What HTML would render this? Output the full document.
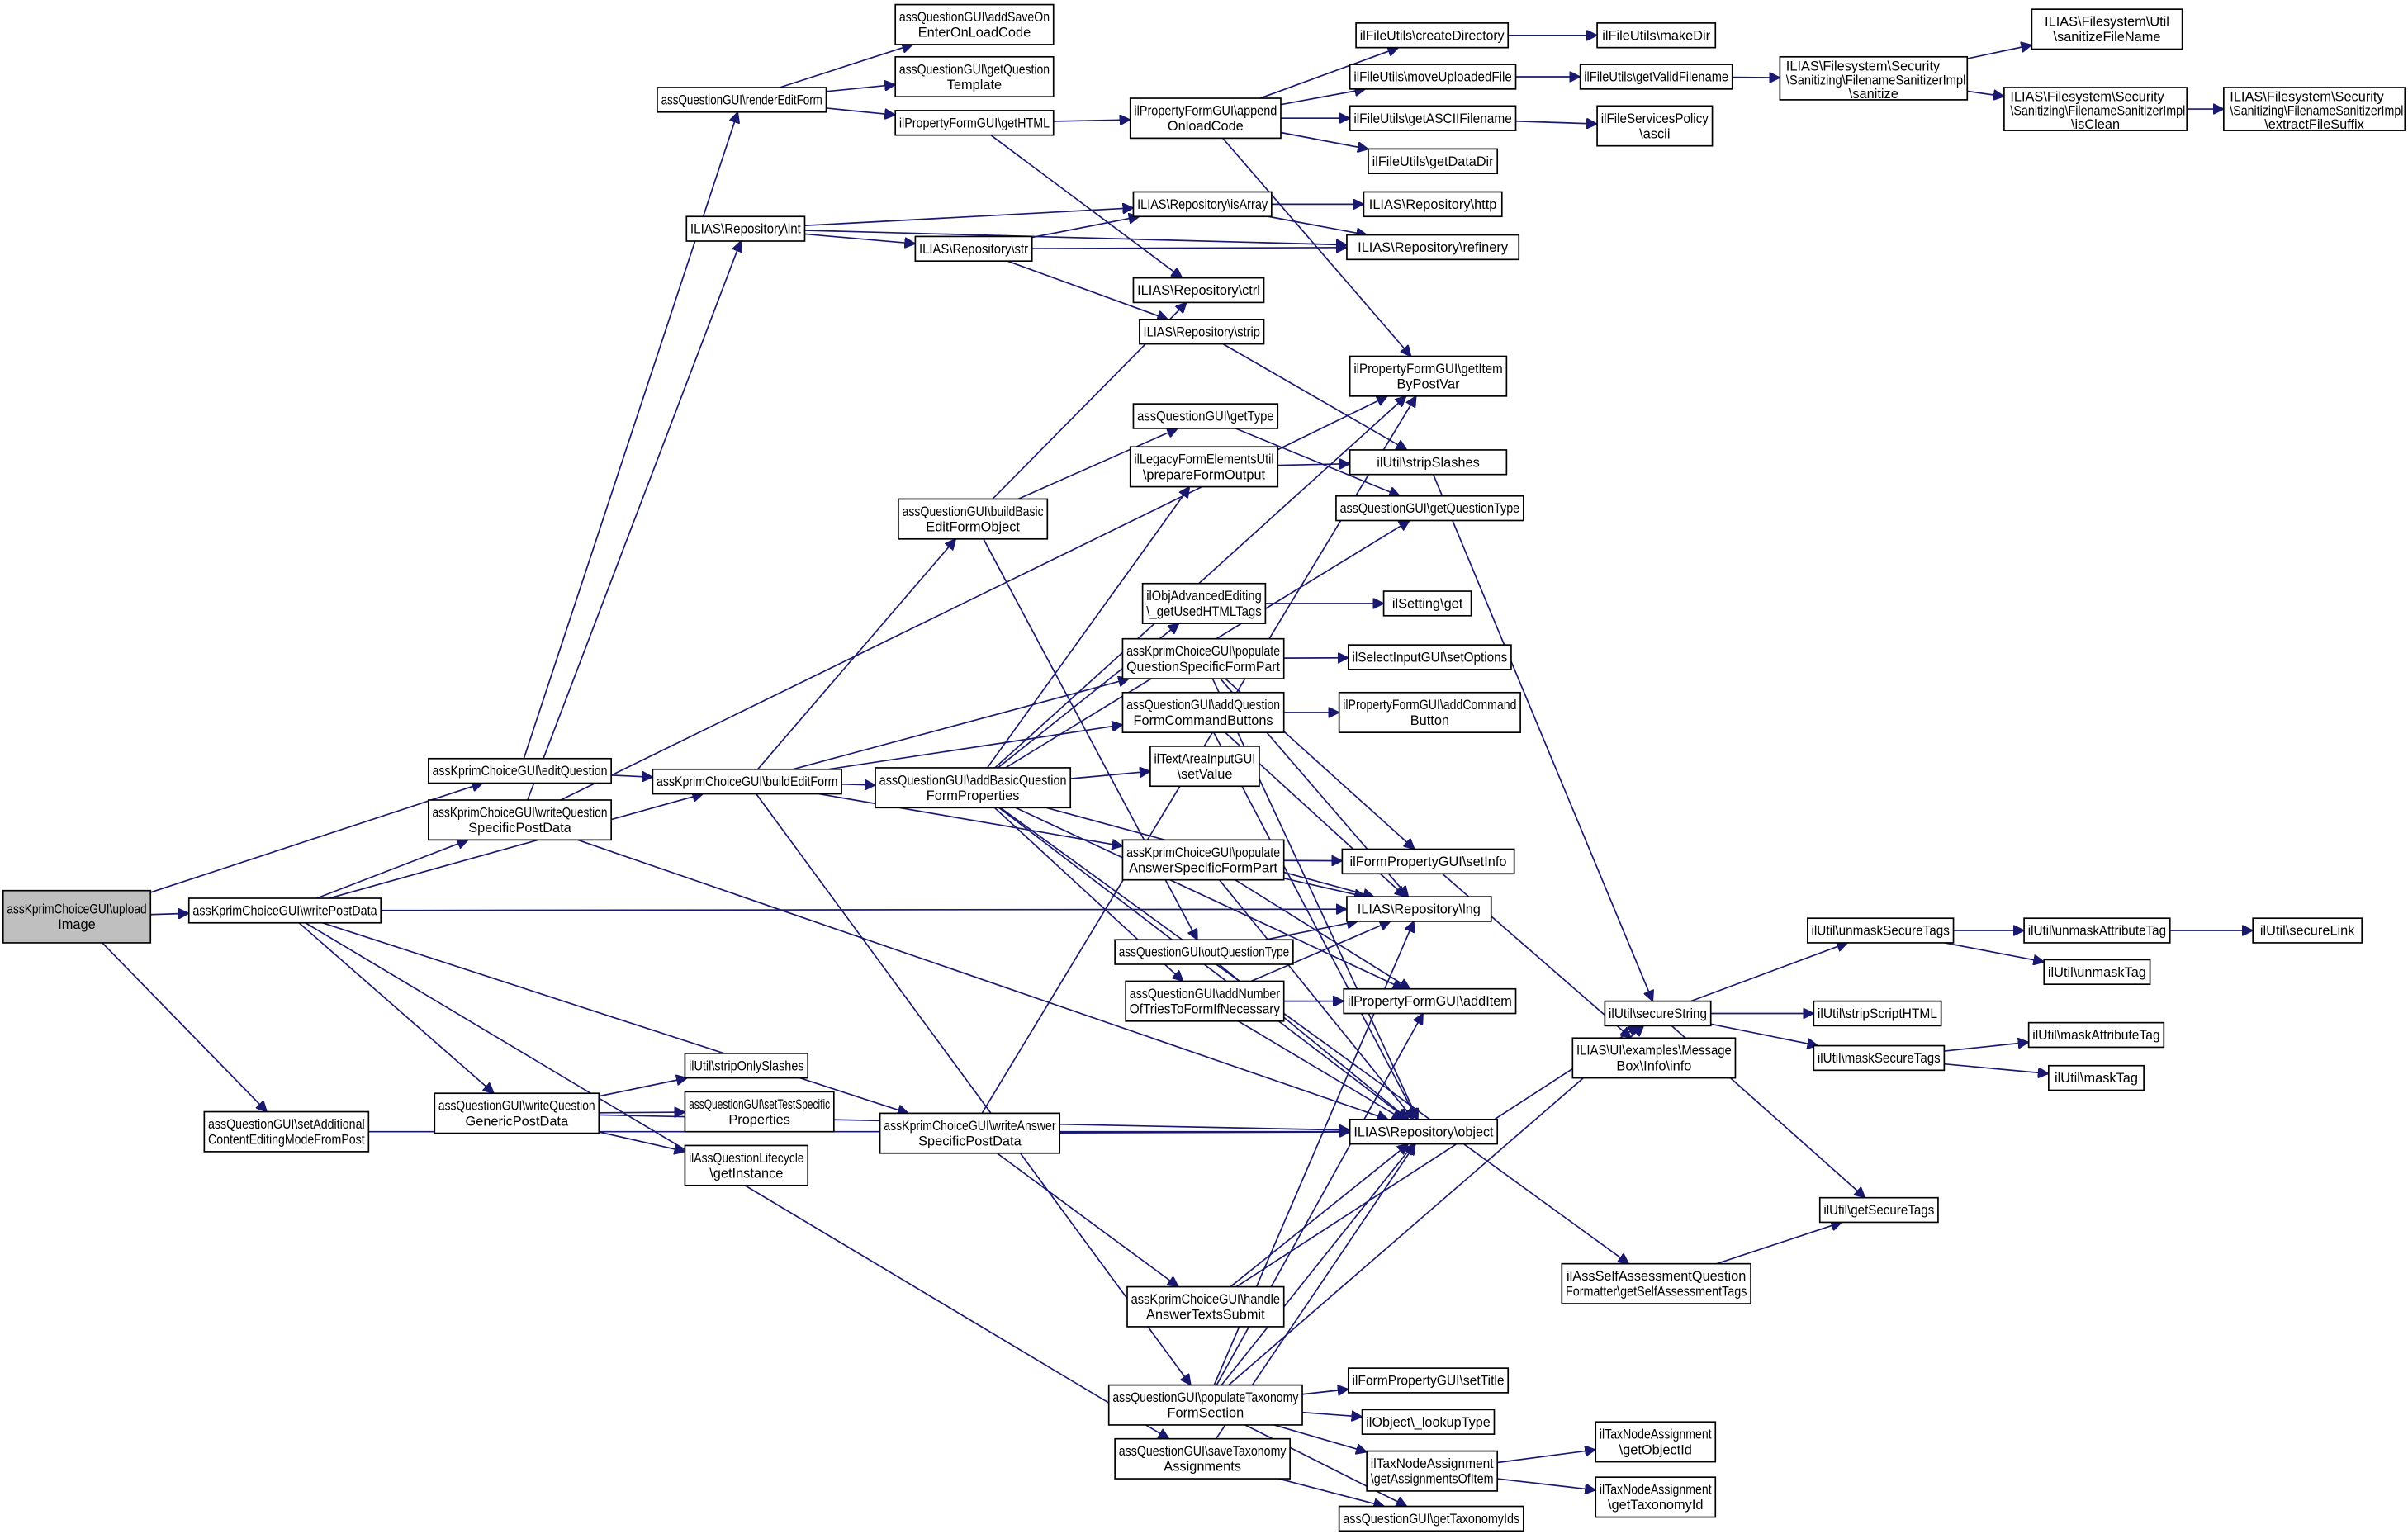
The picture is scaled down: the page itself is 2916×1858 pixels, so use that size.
<!DOCTYPE html>
<html><head><meta charset="utf-8">
<style>
html,body{margin:0;padding:0;background:#fff;}
svg{display:block;}
text{font-family:"Liberation Sans",sans-serif;font-size:8.8px;fill:#000;text-anchor:middle;}
text.l{text-anchor:start;}
rect{fill:#fff;stroke:#000;stroke-width:0.9;}
rect.g{fill:#bfbfbf;}
path.e{fill:none;stroke:#191970;stroke-width:0.9;}
</style></head><body>
<svg id="s" width="2916" height="1858" viewBox="0 0 1568 999" preserveAspectRatio="none" xmlns="http://www.w3.org/2000/svg">
<defs><marker id="a" viewBox="0 0 10 10" refX="10" refY="5" markerWidth="7" markerHeight="7" markerUnits="userSpaceOnUse" orient="auto"><path d="M0,0L10,5L0,10z" fill="#191970" stroke="#191970"/></marker></defs>
<g id="edges"></g>
<g id="nodes">
<rect id="n1" class="g" x="2" y="580" width="96" height="34"/><text x="50" y="595">assKprimChoiceGUI\upload</text><text x="50" y="605">Image</text>
<rect id="n2" x="123" y="585" width="125" height="16"/><text x="185.5" y="596">assKprimChoiceGUI\writePostData</text>
<rect id="n3" x="133" y="724" width="107" height="26"/><text x="186.5" y="735">assQuestionGUI\setAdditional</text><text x="186.5" y="745">ContentEditingModeFromPost</text>
<rect id="n4" x="279" y="494" width="119" height="16"/><text x="338.5" y="505">assKprimChoiceGUI\editQuestion</text>
<rect id="n5" x="279" y="521" width="119" height="26"/><text x="338.5" y="532">assKprimChoiceGUI\writeQuestion</text><text x="338.5" y="542">SpecificPostData</text>
<rect id="n6" x="283" y="712" width="107" height="26"/><text x="336.5" y="723">assQuestionGUI\writeQuestion</text><text x="336.5" y="733">GenericPostData</text>
<rect id="n7" x="428" y="57" width="110" height="16"/><text x="483" y="68">assQuestionGUI\renderEditForm</text>
<rect id="n8" x="447" y="141" width="77" height="16"/><text x="485.5" y="152">ILIAS\Repository\int</text>
<rect id="n9" x="425" y="501" width="123" height="16"/><text x="486.5" y="512">assKprimChoiceGUI\buildEditForm</text>
<rect id="n10" x="583" y="3" width="103" height="26"/><text x="634.5" y="14">assQuestionGUI\addSaveOn</text><text x="634.5" y="24">EnterOnLoadCode</text>
<rect id="n11" x="583" y="37" width="103" height="26"/><text x="634.5" y="48">assQuestionGUI\getQuestion</text><text x="634.5" y="58">Template</text>
<rect id="n12" x="583" y="72" width="103" height="16"/><text x="634.5" y="83">ilPropertyFormGUI\getHTML</text>
<rect id="n13" x="596" y="154" width="76" height="16"/><text x="634" y="165">ILIAS\Repository\str</text>
<rect id="n14" x="585" y="325" width="97" height="26"/><text x="633.5" y="336">assQuestionGUI\buildBasic</text><text x="633.5" y="346">EditFormObject</text>
<rect id="n15" x="570" y="500" width="127" height="26"/><text x="633.5" y="511">assQuestionGUI\addBasicQuestion</text><text x="633.5" y="521">FormProperties</text>
<rect id="n16" x="573" y="725" width="117" height="26"/><text x="631.5" y="736">assKprimChoiceGUI\writeAnswer</text><text x="631.5" y="746">SpecificPostData</text>
<rect id="n17" x="722" y="902" width="126" height="26"/><text x="785" y="913">assQuestionGUI\populateTaxonomy</text><text x="785" y="923">FormSection</text>
<rect id="n18" x="726" y="937" width="114" height="26"/><text x="783" y="948">assQuestionGUI\saveTaxonomy</text><text x="783" y="958">Assignments</text>
<rect id="n19" x="446" y="686" width="80" height="16"/><text x="486" y="697">ilUtil\stripOnlySlashes</text>
<rect id="n20" x="446" y="711" width="97" height="26"/><text x="494.5" y="722">assQuestionGUI\setTestSpecific</text><text x="494.5" y="732">Properties</text>
<rect id="n21" x="446" y="746" width="80" height="26"/><text x="486" y="757">ilAssQuestionLifecycle</text><text x="486" y="767">\getInstance</text>
<rect id="n22" x="736" y="64" width="98" height="26"/><text x="785" y="75">ilPropertyFormGUI\append</text><text x="785" y="85">OnloadCode</text>
<rect id="n23" x="738" y="125" width="90" height="16"/><text x="783" y="136">ILIAS\Repository\isArray</text>
<rect id="n24" x="738" y="181" width="85" height="16"/><text x="780.5" y="192">ILIAS\Repository\ctrl</text>
<rect id="n25" x="742" y="208" width="81" height="16"/><text x="782.5" y="219">ILIAS\Repository\strip</text>
<rect id="n26" x="738" y="263" width="94" height="16"/><text x="785" y="274">assQuestionGUI\getType</text>
<rect id="n27" x="736" y="291" width="96" height="26"/><text x="784" y="302">ilLegacyFormElementsUtil</text><text x="784" y="312">\prepareFormOutput</text>
<rect id="n28" x="744" y="380" width="80" height="26"/><text x="784" y="391">ilObjAdvancedEditing</text><text x="784" y="401">\_getUsedHTMLTags</text>
<rect id="n29" x="731" y="416" width="105" height="26"/><text x="783.5" y="427">assKprimChoiceGUI\populate</text><text x="783.5" y="437">QuestionSpecificFormPart</text>
<rect id="n30" x="731" y="451" width="105" height="26"/><text x="783.5" y="462">assQuestionGUI\addQuestion</text><text x="783.5" y="472">FormCommandButtons</text>
<rect id="n31" x="749" y="486" width="71" height="26"/><text x="784.5" y="497">ilTextAreaInputGUI</text><text x="784.5" y="507">\setValue</text>
<rect id="n32" x="731" y="547" width="105" height="26"/><text x="783.5" y="558">assKprimChoiceGUI\populate</text><text x="783.5" y="568">AnswerSpecificFormPart</text>
<rect id="n33" x="726" y="612" width="116" height="16"/><text x="784" y="623">assQuestionGUI\outQuestionType</text>
<rect id="n34" x="733" y="639" width="103" height="26"/><text x="784.5" y="650">assQuestionGUI\addNumber</text><text x="784.5" y="660">OfTriesToFormIfNecessary</text>
<rect id="n35" x="734" y="838" width="102" height="26"/><text x="785" y="849">assKprimChoiceGUI\handle</text><text x="785" y="859">AnswerTextsSubmit</text>
<rect id="n36" x="883" y="15" width="99" height="16"/><text x="932.5" y="26">ilFileUtils\createDirectory</text>
<rect id="n37" x="879" y="42" width="108" height="16"/><text x="933" y="53">ilFileUtils\moveUploadedFile</text>
<rect id="n38" x="879" y="69" width="108" height="16"/><text x="933" y="80">ilFileUtils\getASCIIFilename</text>
<rect id="n39" x="891" y="97" width="84" height="16"/><text x="933" y="108">ilFileUtils\getDataDir</text>
<rect id="n40" x="888" y="125" width="90" height="16"/><text x="933" y="136">ILIAS\Repository\http</text>
<rect id="n41" x="877" y="153" width="112" height="16"/><text x="933" y="164">ILIAS\Repository\refinery</text>
<rect id="n42" x="879" y="232" width="102" height="26"/><text x="930" y="243">ilPropertyFormGUI\getItem</text><text x="930" y="253">ByPostVar</text>
<rect id="n43" x="879" y="293" width="102" height="16"/><text x="930" y="304">ilUtil\stripSlashes</text>
<rect id="n44" x="870" y="323" width="122" height="16"/><text x="931" y="334">assQuestionGUI\getQuestionType</text>
<rect id="n45" x="901" y="385" width="57" height="16"/><text x="929.5" y="396">ilSetting\get</text>
<rect id="n46" x="878" y="420" width="106" height="16"/><text x="931" y="431">ilSelectInputGUI\setOptions</text>
<rect id="n47" x="872" y="451" width="118" height="26"/><text x="931" y="462">ilPropertyFormGUI\addCommand</text><text x="931" y="472">Button</text>
<rect id="n48" x="874" y="553" width="112" height="16"/><text x="930" y="564">ilFormPropertyGUI\setInfo</text>
<rect id="n49" x="877" y="584" width="94" height="16"/><text x="924" y="595">ILIAS\Repository\lng</text>
<rect id="n50" x="875" y="644" width="112" height="16"/><text x="931" y="655">ilPropertyFormGUI\addItem</text>
<rect id="n51" x="879" y="729" width="96" height="16"/><text x="927" y="740">ILIAS\Repository\object</text>
<rect id="n52" x="878" y="891" width="104" height="16"/><text x="930" y="902">ilFormPropertyGUI\setTitle</text>
<rect id="n53" x="887" y="918" width="86" height="16"/><text x="930" y="929">ilObject\_lookupType</text>
<rect id="n54" x="890" y="945" width="85" height="26"/><text x="932.5" y="956">ilTaxNodeAssignment</text><text x="932.5" y="966">\getAssignmentsOfItem</text>
<rect id="n55" x="872" y="981" width="120" height="16"/><text x="932" y="992">assQuestionGUI\getTaxonomyIds</text>
<rect id="n56" x="1040" y="15" width="77" height="16"/><text x="1078.5" y="26">ilFileUtils\makeDir</text>
<rect id="n57" x="1029" y="42" width="99" height="16"/><text x="1078.5" y="53">ilFileUtils\getValidFilename</text>
<rect id="n58" x="1040" y="69" width="75" height="26"/><text x="1077.5" y="80">ilFileServicesPolicy</text><text x="1077.5" y="90">\ascii</text>
<rect id="n59" x="1024" y="676" width="106" height="26"/><text x="1077" y="687">ILIAS\UI\examples\Message</text><text x="1077" y="697">Box\Info\info</text>
<rect id="n60" x="1045" y="652" width="69" height="16"/><text x="1079.5" y="663">ilUtil\secureString</text>
<rect id="n61" x="1017" y="823" width="123" height="26"/><text x="1078.5" y="834">ilAssSelfAssessmentQuestion</text><text x="1078.5" y="844">Formatter\getSelfAssessmentTags</text>
<rect id="n62" x="1039" y="926" width="78" height="26"/><text x="1078" y="937">ilTaxNodeAssignment</text><text x="1078" y="947">\getObjectId</text>
<rect id="n63" x="1039" y="962" width="78" height="26"/><text x="1078" y="973">ilTaxNodeAssignment</text><text x="1078" y="983">\getTaxonomyId</text>
<rect id="n64" x="1159" y="37" width="122" height="28"/><text class="l" x="1163" y="46">ILIAS\Filesystem\Security</text><text class="l" x="1163" y="55">\Sanitizing\FilenameSanitizerImpl</text><text x="1220" y="64">\sanitize</text>
<rect id="n65" x="1323" y="6" width="98" height="26"/><text x="1372" y="17">ILIAS\Filesystem\Util</text><text x="1372" y="27">\sanitizeFileName</text>
<rect id="n66" x="1305" y="57" width="119" height="28"/><text class="l" x="1309" y="66">ILIAS\Filesystem\Security</text><text class="l" x="1309" y="75">\Sanitizing\FilenameSanitizerImpl</text><text x="1364.5" y="84">\isClean</text>
<rect id="n67" x="1448" y="57" width="118" height="28"/><text class="l" x="1452" y="66">ILIAS\Filesystem\Security</text><text class="l" x="1452" y="75">\Sanitizing\FilenameSanitizerImpl</text><text x="1507" y="84">\extractFileSuffix</text>
<rect id="n68" x="1177" y="598" width="95" height="16"/><text x="1224.5" y="609">ilUtil\unmaskSecureTags</text>
<rect id="n69" x="1181" y="652" width="83" height="16"/><text x="1222.5" y="663">ilUtil\stripScriptHTML</text>
<rect id="n70" x="1181" y="681" width="85" height="16"/><text x="1223.5" y="692">ilUtil\maskSecureTags</text>
<rect id="n71" x="1185" y="780" width="77" height="16"/><text x="1223.5" y="791">ilUtil\getSecureTags</text>
<rect id="n72" x="1318" y="598" width="95" height="16"/><text x="1365.5" y="609">ilUtil\unmaskAttributeTag</text>
<rect id="n73" x="1331" y="625" width="69" height="16"/><text x="1365.5" y="636">ilUtil\unmaskTag</text>
<rect id="n74" x="1321" y="666" width="88" height="16"/><text x="1365" y="677">ilUtil\maskAttributeTag</text>
<rect id="n75" x="1334" y="694" width="62" height="16"/><text x="1365" y="705">ilUtil\maskTag</text>
<rect id="n76" x="1467" y="598" width="71" height="16"/><text x="1502.5" y="609">ilUtil\secureLink</text>
</g>
</svg>
<script>
(function(){
var E="1-4 1-2 1-3 2-5 2-9 2-6 2-16 2-18 2-49 4-7 4-9 5-8 5-42 5-51 3-51 6-19 6-20 6-21 6-51 7-10 7-11 7-12 12-22 12-24 8-13 8-23 8-41 13-23 13-41 13-25 9-14 9-15 9-29 9-30 9-32 9-17 14-24 14-26 14-33 15-27 15-28 15-31 15-44 15-42 15-49 15-50 15-51 15-34 15-61 16-35 16-51 16-42 17-52 17-53 17-54 17-55 17-50 17-51 17-49 17-60 18-55 18-51 22-36 22-37 22-38 22-39 22-42 23-40 23-41 25-43 26-44 27-43 28-45 29-46 29-48 29-49 29-51 30-47 30-49 30-51 32-48 32-49 32-50 32-51 33-49 33-51 34-49 34-50 34-51 35-51 35-60 36-56 37-57 38-58 57-64 64-65 64-66 66-67 43-60 48-59 60-68 60-69 60-70 60-71 68-72 68-73 70-74 70-75 72-76 61-71 54-62 54-63".split(" ");
function b(i){var r=document.getElementById("n"+i);return{x:+r.getAttribute("x"),y:+r.getAttribute("y"),w:+r.getAttribute("width"),h:+r.getAttribute("height")};}
function clip(r,dx,dy){var hw=r.w/2,hh=r.h/2;var t=Math.min(dx?hw/Math.abs(dx):1e9,dy?hh/Math.abs(dy):1e9);return [r.x+hw+dx*t,r.y+hh+dy*t];}
var g=document.getElementById("edges"),ns="http://www.w3.org/2000/svg";
E.forEach(function(e){var p=e.split("-"),s=b(p[0]),t=b(p[1]);
 var scx=s.x+s.w/2,scy=s.y+s.h/2,tcx=t.x+t.w/2,tcy=t.y+t.h/2;
 var dx=tcx-scx,dy=tcy-scy;
 var a=clip(s,dx,dy),c=clip(t,-dx,-dy);
 var d="M"+a[0].toFixed(1)+","+a[1].toFixed(1)+" L"+c[0].toFixed(1)+","+c[1].toFixed(1);
 var pa=document.createElementNS(ns,"path");pa.setAttribute("d",d);pa.setAttribute("class","e");pa.setAttribute("marker-end","url(#a)");g.appendChild(pa);});
var ts=document.querySelectorAll("#nodes text");
ts.forEach(function(t){var r=t.previousElementSibling;while(r&&r.tagName!="rect")r=r.previousElementSibling;if(!r)return;
 var w=+r.getAttribute("width")-5;var l=t.getComputedTextLength();if(l>w){t.setAttribute("textLength",w);t.setAttribute("lengthAdjust","spacingAndGlyphs");}});
})();
</script>
</body></html>
